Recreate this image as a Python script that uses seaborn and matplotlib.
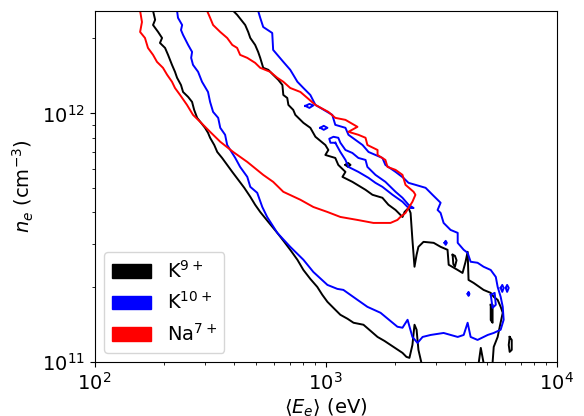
import matplotlib
matplotlib.use("Agg")
import matplotlib.pyplot as plt
import numpy as np
import pandas as pd
import seaborn as sns
from matplotlib.patches import Patch

# contour paths, stored as log10(<E_e> / eV) and log10(n_e / cm^-3)

# K9+ : lower-left branch
k9_a_logE = [2.253, 2.262, 2.253, 2.275, 2.292, 2.283, 2.305, 2.318, 2.335, 2.348,
             2.357, 2.374, 2.383, 2.405, 2.422, 2.431, 2.444, 2.461, 2.478, 2.491,
             2.500, 2.518, 2.531, 2.552, 2.574, 2.596, 2.622, 2.648, 2.674, 2.695,
             2.717, 2.752, 2.791, 2.821, 2.847, 2.878, 2.904, 2.934, 2.964, 2.986,
             3.008, 3.038, 3.064, 3.095, 3.121, 3.164, 3.194, 3.225, 3.255, 3.281,
             3.307, 3.333, 3.350, 3.363, 3.376, 3.385, 3.394, 3.402, 3.415]
k9_a_logn = [12.412, 12.376, 12.355, 12.327, 12.303, 12.283, 12.263, 12.235, 12.195, 12.167,
             12.143, 12.114, 12.086, 12.066, 12.046, 12.014, 11.982, 11.962, 11.942, 11.922,
             11.902, 11.873, 11.845, 11.821, 11.793, 11.765, 11.733, 11.701, 11.665, 11.633,
             11.604, 11.564, 11.520, 11.484, 11.452, 11.412, 11.371, 11.335, 11.303, 11.271,
             11.243, 11.215, 11.191, 11.175, 11.159, 11.151, 11.127, 11.102, 11.086, 11.070,
             11.054, 11.038, 11.022, 11.018, 11.070, 11.151, 11.131, 11.050, 10.998]

# K9+ : upper-right branch
k9_b_logE = [2.600, 2.617, 2.652, 2.665, 2.674, 2.695, 2.708, 2.717, 2.730, 2.752,
             2.773, 2.795, 2.813, 2.817, 2.834, 2.839, 2.860, 2.869, 2.904, 2.934,
             2.956, 2.999, 3.012, 2.999, 3.042, 3.055, 3.086, 3.073, 3.116, 3.173,
             3.203, 3.246, 3.272, 3.303, 3.333, 3.342, 3.359, 3.368, 3.376, 3.385,
             3.394, 3.402, 3.424, 3.468, 3.498, 3.528, 3.533, 3.572, 3.593, 3.606,
             3.615, 3.619, 3.641, 3.684, 3.715, 3.728, 3.745, 3.758, 3.767, 3.754,
             3.745, 3.728, 3.723]
k9_b_logn = [12.412, 12.396, 12.355, 12.327, 12.303, 12.275, 12.247, 12.223, 12.183, 12.175,
             12.155, 12.135, 12.114, 12.074, 12.062, 12.034, 12.014, 11.994, 11.962, 11.942,
             11.906, 11.873, 11.853, 11.833, 11.821, 11.793, 11.765, 11.745, 11.725, 11.693,
             11.673, 11.661, 11.633, 11.612, 11.584, 11.604, 11.620, 11.600, 11.492, 11.384,
             11.432, 11.464, 11.484, 11.480, 11.464, 11.452, 11.392, 11.371, 11.359, 11.404,
             11.444, 11.331, 11.319, 11.291, 11.279, 11.263, 11.251, 11.223, 11.199, 11.143,
             11.102, 11.062, 10.998]

# K9+ : small islands
k9_c_logE = [3.663, 3.672, 3.684]
k9_c_logn = [10.998, 11.058, 10.998]
k9_d_logE = [3.797, 3.806, 3.806, 3.797, 3.793, 3.797]
k9_d_logn = [11.102, 11.090, 11.050, 11.042, 11.070, 11.102]
k9_e_logE = [3.086, 3.097, 3.108, 3.097, 3.086]
k9_e_logn = [11.793, 11.801, 11.793, 11.785, 11.793]
k9_f_logE = [3.550, 3.560, 3.567, 3.560, 3.553, 3.550]
k9_f_logn = [11.432, 11.428, 11.410, 11.384, 11.395, 11.432]
k9_g_logE = [3.715, 3.723, 3.723, 3.715, 3.715]
k9_g_logn = [11.231, 11.231, 11.159, 11.170, 11.231]

# K10+ : main U-shaped contour
k10_a_logE = [2.357, 2.361, 2.379, 2.374, 2.383, 2.405, 2.422, 2.418, 2.426, 2.448,
              2.465, 2.491, 2.500, 2.513, 2.535, 2.544, 2.565, 2.574, 2.609, 2.630,
              2.661, 2.674, 2.704, 2.726, 2.747, 2.791, 2.847, 2.904, 2.947, 3.008,
              3.051, 3.077, 3.138, 3.181, 3.238, 3.311, 3.333, 3.355, 3.376, 3.398,
              3.420, 3.455, 3.511, 3.572, 3.598, 3.615, 3.628, 3.658, 3.702, 3.728,
              3.758, 3.771, 3.767, 3.758, 3.745, 3.737, 3.715, 3.684, 3.658, 3.628,
              3.615, 3.598, 3.572, 3.572, 3.541, 3.511, 3.498, 3.485, 3.498, 3.463,
              3.433, 3.389, 3.359, 3.337, 3.303, 3.259, 3.246, 3.186, 3.160, 3.099,
              3.086, 3.042, 3.029, 2.956, 2.934, 2.904, 2.878, 2.860, 2.847, 2.817,
              2.773, 2.769, 2.730, 2.717, 2.708]
k10_a_logn = [12.412, 12.384, 12.355, 12.335, 12.315, 12.275, 12.247, 12.223, 12.195, 12.167,
              12.127, 12.086, 12.046, 12.006, 11.982, 11.942, 11.914, 11.873, 11.821, 11.785,
              11.745, 11.705, 11.681, 11.624, 11.584, 11.520, 11.464, 11.412, 11.363, 11.311,
              11.295, 11.291, 11.251, 11.223, 11.199, 11.143, 11.139, 11.171, 11.102, 11.078,
              11.102, 11.110, 11.118, 11.102, 11.110, 11.159, 11.102, 11.090, 11.110, 11.118,
              11.131, 11.171, 11.223, 11.263, 11.303, 11.343, 11.371, 11.384, 11.400, 11.404,
              11.440, 11.452, 11.480, 11.520, 11.532, 11.560, 11.600, 11.612, 11.641, 11.673,
              11.701, 11.713, 11.721, 11.741, 11.765, 11.793, 11.821, 11.845, 11.873, 11.914,
              11.942, 11.954, 11.994, 12.034, 12.074, 12.102, 12.127, 12.155, 12.175, 12.207,
              12.255, 12.323, 12.347, 12.384, 12.412]

# K10+ : inner closed loop
k10_b_logE = [3.042, 3.064, 3.086, 3.099, 3.142, 3.186, 3.216, 3.246, 3.290, 3.333,
              3.355, 3.368, 3.381, 3.359, 3.333, 3.303, 3.259, 3.216, 3.181, 3.173,
              3.142, 3.116, 3.086, 3.064, 3.055, 3.034, 3.016, 3.021, 3.042]
k10_b_logn = [11.882, 11.845, 11.813, 11.785, 11.765, 11.741, 11.721, 11.705, 11.673, 11.645,
              11.624, 11.620, 11.620, 11.633, 11.661, 11.685, 11.725, 11.753, 11.785, 11.813,
              11.821, 11.841, 11.853, 11.882, 11.902, 11.906, 11.898, 11.882, 11.882]

# K10+ : small islands
k10_c_logE = [2.912, 2.930, 2.947, 2.930, 2.912]
k10_c_logn = [12.030, 12.038, 12.032, 12.022, 12.030]
k10_d_logE = [2.977, 2.992, 3.008, 2.992, 2.977]
k10_d_logn = [11.942, 11.950, 11.942, 11.934, 11.942]
k10_e_logE = [3.515, 3.520, 3.525, 3.520, 3.515]
k10_e_logn = [11.480, 11.488, 11.480, 11.472, 11.480]
k10_f_logE = [3.615, 3.619, 3.623, 3.619, 3.615]
k10_f_logn = [11.275, 11.283, 11.275, 11.267, 11.275]
k10_g_logE = [3.758, 3.765, 3.771, 3.765, 3.758]
k10_g_logn = [11.299, 11.311, 11.299, 11.283, 11.299]
k10_h_logE = [3.780, 3.786, 3.793, 3.786, 3.780]
k10_h_logn = [11.299, 11.311, 11.299, 11.283, 11.299]
k10_i_logE = [3.715, 3.732, 3.737, 3.723, 3.715]
k10_i_logn = [11.271, 11.279, 11.231, 11.219, 11.271]

# Na7+ : single U-shaped contour
na7_logE = [2.197, 2.205, 2.197, 2.218, 2.231, 2.253, 2.270, 2.296, 2.314, 2.335,
            2.348, 2.370, 2.400, 2.426, 2.457, 2.500, 2.544, 2.600, 2.661, 2.730,
            2.773, 2.817, 2.891, 2.947, 3.008, 3.064, 3.138, 3.207, 3.281, 3.311,
            3.324, 3.346, 3.359, 3.376, 3.389, 3.381, 3.346, 3.333, 3.303, 3.268,
            3.259, 3.225, 3.225, 3.181, 3.173, 3.142, 3.099, 3.138, 3.086, 3.042,
            3.012, 2.956, 2.921, 2.891, 2.847, 2.817, 2.791, 2.760, 2.717, 2.695,
            2.661, 2.630, 2.617, 2.596, 2.574, 2.544, 2.513, 2.500, 2.487]
na7_logn = [12.412, 12.367, 12.327, 12.303, 12.263, 12.235, 12.207, 12.183, 12.155, 12.127,
            12.102, 12.074, 12.034, 11.994, 11.966, 11.926, 11.886, 11.845, 11.805, 11.753,
            11.725, 11.685, 11.653, 11.624, 11.604, 11.584, 11.572, 11.560, 11.560, 11.572,
            11.584, 11.600, 11.620, 11.645, 11.673, 11.685, 11.713, 11.753, 11.773, 11.785,
            11.813, 11.833, 11.853, 11.873, 11.902, 11.914, 11.926, 11.946, 11.974, 11.982,
            12.006, 12.034, 12.062, 12.086, 12.102, 12.127, 12.143, 12.167, 12.183, 12.203,
            12.223, 12.235, 12.263, 12.275, 12.303, 12.327, 12.355, 12.384, 12.412]

ions = ["K$^{9+}$", "K$^{10+}$", "Na$^{7+}$"]
colors = ["black", "blue", "red"]

pieces = [
    (ions[0], k9_a_logE, k9_a_logn),
    (ions[0], k9_b_logE, k9_b_logn),
    (ions[0], k9_c_logE, k9_c_logn),
    (ions[0], k9_d_logE, k9_d_logn),
    (ions[0], k9_e_logE, k9_e_logn),
    (ions[0], k9_f_logE, k9_f_logn),
    (ions[0], k9_g_logE, k9_g_logn),
    (ions[1], k10_a_logE, k10_a_logn),
    (ions[1], k10_b_logE, k10_b_logn),
    (ions[1], k10_c_logE, k10_c_logn),
    (ions[1], k10_d_logE, k10_d_logn),
    (ions[1], k10_e_logE, k10_e_logn),
    (ions[1], k10_f_logE, k10_f_logn),
    (ions[1], k10_g_logE, k10_g_logn),
    (ions[1], k10_h_logE, k10_h_logn),
    (ions[1], k10_i_logE, k10_i_logn),
    (ions[2], na7_logE, na7_logn),
]

frames = []
for i, (ion, logE, logn) in enumerate(pieces):
    frames.append(pd.DataFrame({
        "E": 10 ** np.array(logE),
        "n": 10 ** np.array(logn),
        "ion": ion,
        "piece": i,
    }))
df = pd.concat(frames, ignore_index=True)

fig = plt.figure(figsize=(5.84, 4.16), dpi=100)
ax = fig.add_axes([0.162, 0.129, 0.791, 0.845])
ax.set_xscale("log")
ax.set_yscale("log")

sns.lineplot(
    data=df, x="E", y="n", hue="ion", units="piece",
    hue_order=ions, palette=dict(zip(ions, colors)),
    estimator=None, sort=False, linewidth=1.4, legend=False, ax=ax,
)

ax.set_xlim(1e2, 1e4)
ax.set_ylim(1e11, 10 ** 12.412)
ax.set_xlabel(r"$\langle E_e\rangle$ (eV)", fontsize=14, labelpad=2)
ax.set_ylabel(r"$n_e$ (cm$^{-3}$)", fontsize=14)
ax.tick_params(axis="both", which="major", labelsize=14)

handles = [Patch(color=c, label=l) for c, l in zip(colors, ions)]
ax.legend(handles=handles, loc="lower left", fontsize=14)

fig.savefig("out.png", dpi=100)
